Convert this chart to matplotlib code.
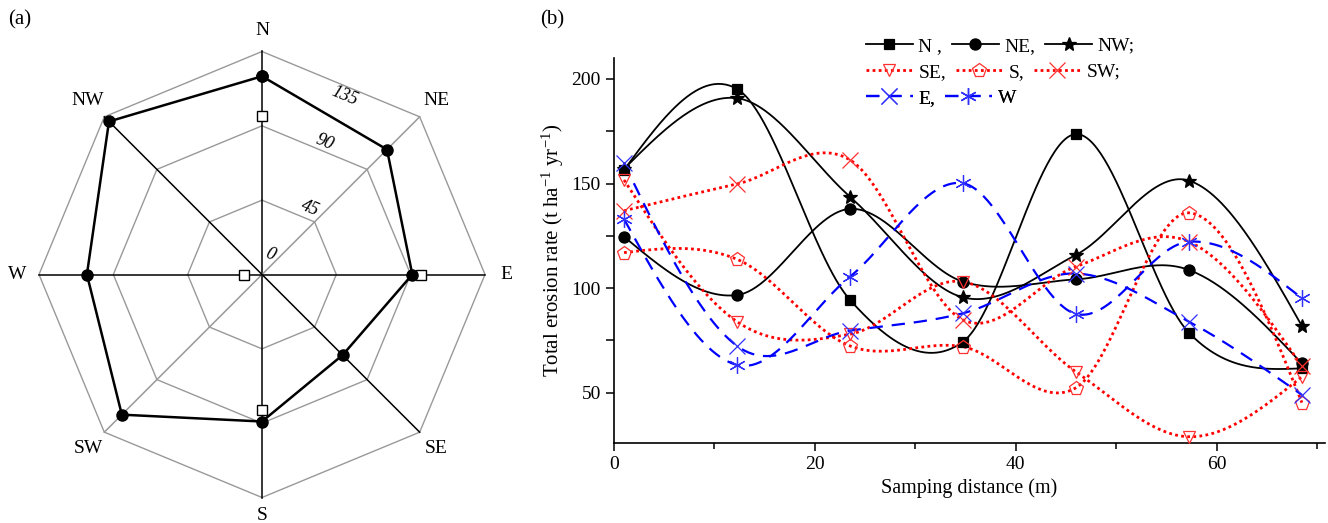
import numpy as np
import matplotlib
matplotlib.use("Agg")
import matplotlib.pyplot as plt
from matplotlib.ticker import MultipleLocator

plt.rcParams["font.family"] = ["Liberation Serif", "DejaVu Serif"]
plt.rcParams["mathtext.fontset"] = "custom"
plt.rcParams["mathtext.rm"] = "Liberation Serif"
plt.rcParams["mathtext.it"] = "Liberation Serif:italic"

# (a) 风向雷达图数据
directions = ["N", "NE", "E", "SE", "S", "SW", "W", "NW"]
mean_rate = [120, 107, 91, 69, 89, 120, 106, 131]
square_dirs = ["N", "E", "S", "W"]
square_rate = [96, 96, 82, 11]
rings = [45, 90, 135]

# (b) 沿采样距离的侵蚀速率
distance = [1, 12.25, 23.5, 34.75, 46, 57.25, 68.5]
rate_N = [156.5, 195.2, 94.4, 74.4, 173.6, 78.7, 61.7]
rate_NE = [124.6, 96.7, 137.9, 103.1, 104.2, 108.7, 64.0]
rate_NW = [157.0, 190.8, 143.7, 95.6, 115.9, 151.4, 81.9]
rate_SE = [151.7, 84.0, 78.0, 103.1, 60.0, 29.0, 57.7]
rate_S = [117.0, 113.8, 72.4, 72.0, 52.4, 136.0, 45.3]
rate_SW = [137.0, 149.8, 161.3, 84.8, 110.3, 122.2, 62.8]
rate_E = [159.7, 72.4, 79.7, 88.0, 107.0, 84.0, 49.0]
rate_W = [133.0, 63.3, 105.5, 150.1, 87.7, 122.2, 95.2]


def smooth(x, y, n=60):
    # Catmull-Rom style cubic curve through the points (only for drawing the line)
    x = np.asarray(x, float)
    y = np.asarray(y, float)
    sec = np.diff(y) / np.diff(x)
    m = np.zeros(len(x))
    m[1:-1] = (y[2:] - y[:-2]) / (x[2:] - x[:-2])
    m[0] = (3 * sec[0] - m[1]) / 2
    m[-1] = (3 * sec[-1] - m[-2]) / 2
    xs, ys = [], []
    for i in range(len(x) - 1):
        h = x[i + 1] - x[i]
        t = np.linspace(0, 1, n)
        h00 = 2 * t ** 3 - 3 * t ** 2 + 1
        h10 = t ** 3 - 2 * t ** 2 + t
        h01 = -2 * t ** 3 + 3 * t ** 2
        h11 = t ** 3 - t ** 2
        xs.append(x[i] + t * h)
        ys.append(h00 * y[i] + h10 * h * m[i] + h01 * y[i + 1] + h11 * h * m[i + 1])
    return np.concatenate(xs), np.concatenate(ys)


W_PX, H_PX = 1328, 523
fig = plt.figure(figsize=(W_PX / 100, H_PX / 100), dpi=100)

# ---------- (a) ----------
cx, cy, rpx = 262, 274.5, 223
u = rings[-1] / rpx
axa = fig.add_axes([0, 0, 530 / W_PX, 1])
axa.set_xlim(-cx * u, (530 - cx) * u)
axa.set_ylim(-(H_PX - cy) * u, cy * u)
axa.axis("off")

theta = np.deg2rad(np.arange(len(directions)) * 45)
gx, gy = np.sin(theta), np.cos(theta)

for r in rings:
    axa.plot(np.append(gx, gx[0]) * r, np.append(gy, gy[0]) * r, color="#999999", lw=1.0, zorder=1)

black_axes = ["N", "E", "S", "W", "NW", "SE"]
for i, d in enumerate(directions):
    col = "black" if d in black_axes else "#999999"
    axa.plot([0, gx[i] * rings[-1]], [0, gy[i] * rings[-1]], color=col, lw=1.1, zorder=2)

mr = np.array(mean_rate, float)
axa.plot(np.append(gx * mr, gx[0] * mr[0]), np.append(gy * mr, gy[0] * mr[0]),
         color="black", lw=1.8, marker="o", ms=8, zorder=4)

si = [directions.index(d) for d in square_dirs]
sr = np.array(square_rate, float)
axa.plot(gx[si] * sr, gy[si] * sr, ls="none", marker="s", ms=7, mfc="white",
         mec="black", mew=1.0, zorder=3)

lab_r = {"N": 148, "NE": 149, "E": 148, "SE": 149, "S": 146, "SW": 149, "W": 148, "NW": 149}
for i, d in enumerate(directions):
    axa.text(gx[i] * lab_r[d], gy[i] * lab_r[d], d, ha="center", va="center", fontsize=14)

ring_labels = ["0", "45", "90", "135"]
ring_pos = [(5, 12), (29, 40), (38, 80), (50, 108)]
for t, (px, py) in zip(ring_labels, ring_pos):
    axa.text(px, py, t, ha="center", va="center", fontsize=13, style="italic", rotation=-22.5)

fig.text(8 / W_PX, 1 - 20 / H_PX, "(a)", fontsize=15, ha="left", va="center")

# ---------- (b) ----------
axb = fig.add_axes([614 / W_PX, 1 - 443 / H_PX, (1325 - 614) / W_PX, (443 - 58) / H_PX])

dot = (0, (1, 1.2))
dash = (0, (6, 4))
red = "#ff0000"
blue = "#0000ff"
# 每行一个图例：名称, 数据, 颜色, 线型, 标记, 填充, 大小
rows = [
    [("N ,", rate_N, "black", "-", "s", "black", 7),
     ("NE,", rate_NE, "black", "-", "o", "black", 8),
     ("NW;", rate_NW, "black", "-", "*", "black", 10)],
    [("SE,", rate_SE, red, dot, "v", "none", 9),
     ("S,", rate_S, red, dot, "p", "none", 10),
     ("SW;", rate_SW, red, dot, "x", "none", 11)],
    [("E,", rate_E, blue, dash, "x", "none", 11),
     ("W", rate_W, blue, dash, (6, 2, 0), "none", 12)],
]
row_y = [46, 72, 98]
for row, yrow in zip(rows, row_y):
    handles = []
    for lab, vals, col, ls, mk, mfc, ms in row:
        xs, ys = smooth(distance, vals)
        lw = 1.3 if col == "black" else (2.0 if col == red else 1.6)
        axb.plot(xs, ys, color=col, ls=ls, lw=lw, zorder=2)
        mcol = col if col == "black" else ("#ff3030" if col == red else "#3030ff")
        axb.plot(distance, vals, ls="none", marker=mk, ms=ms, mfc=mfc, mec=mcol, mew=0.9, zorder=3)
        h, = axb.plot([], [], color=col, ls=ls, lw=lw, marker=mk, ms=ms, mfc=mfc, mec=mcol, mew=0.9)
        handles.append((h, lab))
    leg = axb.legend([h for h, _ in handles], [l for _, l in handles], ncol=len(handles),
                     loc="center left", bbox_to_anchor=(866 / W_PX, 1 - yrow / H_PX),
                     bbox_transform=fig.transFigure, frameon=False, fontsize=14,
                     handlelength=2.4, handletextpad=0.3, columnspacing=0.5,
                     borderpad=0.0, borderaxespad=0.0)
    axb.add_artist(leg)

axb.set_xlim(0, 70.8)
axb.set_ylim(26, 210)
axb.xaxis.set_major_locator(MultipleLocator(20))
axb.xaxis.set_minor_locator(MultipleLocator(10))
axb.yaxis.set_major_locator(MultipleLocator(50))
axb.yaxis.set_minor_locator(MultipleLocator(25))
for s in ["top", "right"]:
    axb.spines[s].set_visible(False)
for s in ["left", "bottom"]:
    axb.spines[s].set_linewidth(1.2)
axb.tick_params(axis="both", which="both", direction="out", width=1.1, labelsize=14)
axb.tick_params(axis="x", which="major", length=6)
axb.tick_params(axis="x", which="minor", length=4)
axb.tick_params(axis="y", which="both", length=6)
axb.set_xlabel("Samping distance (m)", fontsize=14.5)
axb.set_ylabel("Total erosion rate (t ha$^{-1}$ yr$^{-1}$)", fontsize=15)

fig.text(540 / W_PX, 1 - 20 / H_PX, "(b)", fontsize=15, ha="left", va="center")

fig.savefig("out.png", dpi=100)
